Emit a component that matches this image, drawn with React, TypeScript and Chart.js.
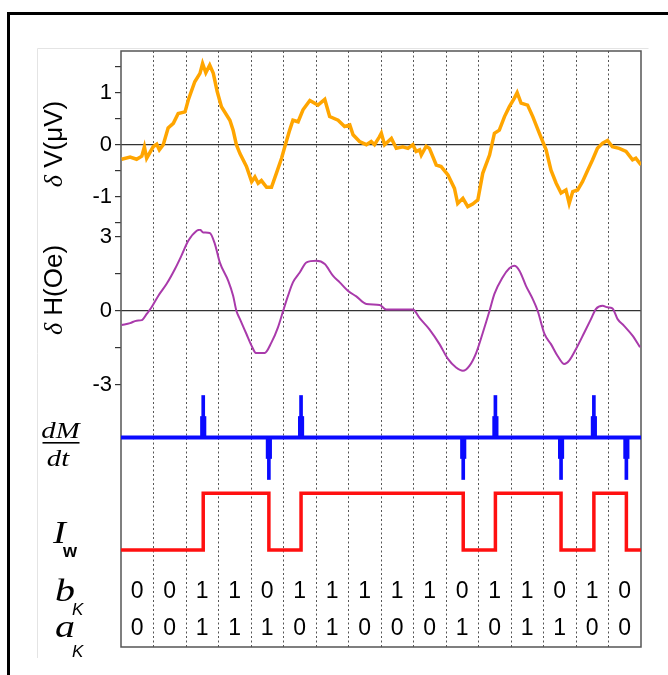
import React, { useEffect, useRef } from 'react';
import { Chart, registerables } from 'chart.js';

Chart.register(...registerables);

// ---------- data ----------
// time axis: 16 bit slots (0..16)
const dvX = [0.02, 0.28, 0.48, 0.64, 0.72, 0.79, 0.99, 1.10, 1.18, 1.30, 1.45, 1.61, 1.76, 1.97, 2.07, 2.27, 2.43, 2.51, 2.61, 2.73, 2.84, 2.96, 3.09, 3.35, 3.45, 3.55, 3.66, 3.86, 4.02, 4.12, 4.22, 4.32, 4.48, 4.63, 4.78, 4.94, 5.04, 5.19, 5.29, 5.45, 5.60, 5.81, 6.06, 6.27, 6.42, 6.68, 6.88, 7.04, 7.14, 7.34, 7.55, 7.70, 7.80, 7.95, 8.01, 8.11, 8.32, 8.47, 8.67, 8.83, 8.98, 9.08, 9.19, 9.24, 9.39, 9.49, 9.70, 9.85, 10.06, 10.26, 10.36, 10.52, 10.67, 10.82, 10.98, 11.13, 11.34, 11.49, 11.64, 11.80, 11.95, 12.10, 12.19, 12.31, 12.51, 12.67, 12.87, 13.08, 13.23, 13.39, 13.54, 13.69, 13.79, 13.90, 14.05, 14.20, 14.36, 14.51, 14.66, 14.82, 14.97, 15.12, 15.33, 15.54, 15.74, 15.84, 16.0];
const dvY = [-0.28, -0.24, -0.28, -0.22, -0.04, -0.26, -0.04, 0.01, -0.1, 0, 0.32, 0.41, 0.6, 0.63, 0.86, 1.21, 1.37, 1.56, 1.38, 1.53, 1.37, 1.02, 0.73, 0.47, 0.28, 0, -0.17, -0.42, -0.71, -0.62, -0.74, -0.69, -0.82, -0.82, -0.55, -0.26, -0.04, 0.28, 0.47, 0.44, 0.67, 0.85, 0.76, 0.87, 0.54, 0.47, 0.35, 0.38, 0.19, 0.06, 0, 0.06, 0, 0.15, 0.22, 0, 0.12, -0.07, -0.04, -0.07, 0, -0.13, -0.1, -0.2, -0.03, -0.07, -0.39, -0.42, -0.58, -0.84, -1.13, -1.03, -1.19, -1.14, -1.06, -0.55, -0.2, 0.22, 0.28, 0.54, 0.73, 0.89, 1.0, 0.8, 0.76, 0.54, 0.22, -0.1, -0.49, -0.74, -0.93, -0.87, -1.13, -0.9, -0.87, -0.71, -0.49, -0.29, -0.07, 0.03, 0.08, -0.04, -0.07, -0.13, -0.29, -0.26, -0.39];

const dhX = [0.02, 0.28, 0.48, 0.64, 0.79, 0.94, 1.15, 1.40, 1.66, 1.86, 2.07, 2.33, 2.43, 2.53, 2.73, 2.89, 3.04, 3.30, 3.45, 3.55, 3.66, 3.86, 4.02, 4.15, 4.42, 4.63, 4.83, 4.99, 5.14, 5.29, 5.50, 5.71, 6.01, 6.27, 6.52, 6.73, 6.98, 7.24, 7.55, 7.96, 8.16, 8.98, 9.19, 9.49, 9.80, 10.06, 10.31, 10.52, 10.72, 10.93, 11.13, 11.34, 11.49, 11.74, 11.95, 12.10, 12.26, 12.46, 12.67, 12.82, 13.03, 13.23, 13.43, 13.64, 13.79, 14.00, 14.26, 14.46, 14.61, 14.82, 14.97, 15.12, 15.28, 15.48, 15.74, 15.97];
const dhY = [-0.58, -0.5, -0.4, -0.38, -0.13, 0.14, 0.61, 1.08, 1.69, 2.23, 2.83, 3.24, 3.28, 3.17, 3.15, 2.7, 1.96, 1.21, 0.61, 0, -0.34, -0.94, -1.42, -1.71, -1.71, -1.28, -0.67, 0, 0.61, 1.15, 1.55, 1.96, 2.02, 1.89, 1.42, 1.15, 0.81, 0.58, 0.27, 0.23, 0.05, 0.05, -0.3, -0.75, -1.35, -1.95, -2.3, -2.43, -2.23, -1.7, -0.9, 0, 0.68, 1.35, 1.72, 1.82, 1.62, 1.01, 0.47, 0, -0.94, -1.35, -1.82, -2.16, -2.02, -1.55, -0.87, -0.34, 0.07, 0.2, 0.14, 0.1, -0.34, -0.61, -1.01, -1.48];

const spikeX = [2.53, 4.55, 5.54, 10.53, 11.52, 13.54, 14.55, 15.55];
const spikeDir = [1, -1, 1, -1, 1, -1, 1, -1];
const spikeTip = 1;
const spikeCore = 0.5;

const iwX = [0, 2.53, 4.55, 5.54, 10.53, 11.52, 13.54, 14.55, 15.55, 16];
const iwY = [-1, 1, -1, 1, -1, 1, -1, 1, -1, -1];

const bK = [0, 0, 1, 1, 0, 1, 1, 1, 1, 1, 0, 1, 1, 0, 1, 0];
const aK = [0, 0, 1, 1, 1, 0, 1, 0, 0, 0, 1, 0, 1, 1, 0, 0];

const SANS = "'Liberation Sans', Arial, sans-serif";
const SERIF = "'Liberation Serif', 'Times New Roman', serif";

const pts = (xs: number[], ys: number[]) => xs.map((x, i) => ({ x, y: ys[i] }));

const figurePlugin = {
  id: 'figure',
  beforeDraw(chart: any) {
    const ctx = chart.ctx;
    ctx.save();
    ctx.fillStyle = '#fff';
    ctx.fillRect(0, 0, chart.width, chart.height);
    // faint inner frame
    ctx.strokeStyle = '#e4e4e4';
    ctx.lineWidth = 1;
    ctx.beginPath();
    ctx.moveTo(37.5, 658);
    ctx.lineTo(37.5, 48.5);
    ctx.lineTo(648.5, 48.5);
    ctx.stroke();
    // thick outer frame
    ctx.fillStyle = '#000';
    ctx.fillRect(7, 12, 661, 3);
    ctx.fillRect(7, 12, 3, 663);
    ctx.restore();
  },
  beforeDatasetsDraw(chart: any) {
    const { ctx, chartArea: a } = chart;
    ctx.save();
    ctx.strokeStyle = '#555';
    ctx.lineWidth = 1.5;
    ctx.strokeRect(a.left, a.top, a.right - a.left, a.bottom - a.top);
    ctx.restore();
  },
  afterDraw(chart: any) {
    const ctx = chart.ctx;
    const xs = chart.scales.x;
    const yb = chart.scales.yB;
    ctx.save();
    // bit digits
    ctx.fillStyle = '#000';
    ctx.font = `23px ${SANS}`;
    ctx.textAlign = 'center';
    ctx.textBaseline = 'middle';
    bK.forEach((v, k) => ctx.fillText(String(v), xs.getPixelForValue(k + 0.5), yb.getPixelForValue(1)));
    aK.forEach((v, k) => ctx.fillText(String(v), xs.getPixelForValue(k + 0.5), yb.getPixelForValue(0)));

    // rotated labels
    const rot = (cx: number, cy: number, parts: [string, string][]) => {
      ctx.save();
      ctx.translate(cx, cy);
      ctx.rotate(-Math.PI / 2);
      ctx.textAlign = 'left';
      ctx.textBaseline = 'alphabetic';
      let total = 0;
      parts.forEach(([t, f]) => { ctx.font = f; total += ctx.measureText(t).width; });
      let x = -total / 2;
      parts.forEach(([t, f]) => { ctx.font = f; ctx.fillText(t, x, 0); x += ctx.measureText(t).width; });
      ctx.restore();
    };
    rot(62, 144, [['δ', `italic 26px ${SERIF}`], [' V(μV)', `26px ${SANS}`]]);
    rot(62, 290, [['δ', `italic 26px ${SERIF}`], [' H(Oe)', `26px ${SANS}`]]);

    // stretched italic serif symbols
    const sym = (t: string, x: number, y: number, font: string, align: string) => {
      ctx.save();
      ctx.translate(x, y);
      ctx.scale(1.25, 1);
      ctx.font = font;
      ctx.textAlign = align;
      ctx.textBaseline = 'alphabetic';
      ctx.fillText(t, 0, 0);
      ctx.restore();
    };
    // dM/dt
    sym('dM', 60.5, 438, `italic 23px ${SERIF}`, 'center');
    sym('dt', 58, 466, `italic 23px ${SERIF}`, 'center');
    ctx.fillRect(42.5, 442, 37, 1.6);

    // I_w
    sym('I', 53, 543, `italic 31px ${SERIF}`, 'left');
    ctx.textAlign = 'left';
    ctx.textBaseline = 'alphabetic';
    ctx.font = `bold 18px ${SANS}`;
    ctx.fillText('w', 63, 557);
    // b_K, a_K
    sym('b', 55, 601, `italic 32px ${SERIF}`, 'left');
    sym('a', 55, 637, `italic 32px ${SERIF}`, 'left');
    ctx.textAlign = 'left';
    ctx.font = `italic 17px ${SANS}`;
    ctx.fillText('K', 72, 615);
    ctx.fillText('K', 72, 657);
    ctx.restore();
  },
};

const yBase = (weight: number, stackWeight: number, min: number, max: number) => ({
  type: 'linear',
  position: 'left',
  stack: 'panels',
  stackWeight,
  weight,
  min,
  max,
  offset: false,
  border: { display: false },
  afterFit: (s: any) => { s.width = 121; },
});

export default function App() {
  const ref = useRef<HTMLCanvasElement | null>(null);
  useEffect(() => {
    if (!ref.current) return;
    const zeroGrid = (c: any) => (c.tick && c.tick.value === 0 ? '#333' : 'rgba(0,0,0,0)');
    const chart = new Chart(ref.current, {
      type: 'line',
      data: {
        datasets: [
          { data: pts(dvX, dvY), yAxisID: 'yV', borderColor: '#ffa500', borderWidth: 3.5, pointRadius: 0, tension: 0 },
          { data: pts(dhX, dhY), yAxisID: 'yH', borderColor: '#a93aab', borderWidth: 2, pointRadius: 0, cubicInterpolationMode: 'monotone' },
          { data: [{ x: 0, y: 0 }, { x: 16, y: 0 }], yAxisID: 'yM', borderColor: '#0a0aff', borderWidth: 4, pointRadius: 0 },
          { type: 'bar', data: spikeX.map((x, i) => ({ x, y: spikeDir[i] * spikeTip })), yAxisID: 'yM', backgroundColor: '#0a0aff', barThickness: 3, grouped: false },
          { type: 'bar', data: spikeX.map((x, i) => ({ x, y: spikeDir[i] * spikeCore })), yAxisID: 'yM', backgroundColor: '#0a0aff', barThickness: 5.5, grouped: false },
          { data: pts(iwX, iwY), yAxisID: 'yI', borderColor: '#ff1010', borderWidth: 3.5, pointRadius: 0, stepped: true },
        ] as any,
      },
      options: {
        animation: false,
        responsive: false,
        devicePixelRatio: 1,
        layout: { padding: { top: 51, left: 0, right: 27, bottom: 28 } },
        plugins: { legend: { display: false }, tooltip: { enabled: false } },
        scales: {
          x: {
            type: 'linear', min: 0, max: 16, offset: false,
            ticks: { display: false, stepSize: 1 },
            grid: {
              offset: false, drawTicks: false, lineWidth: 1,
              color: (c: any) => (c.tick && (c.tick.value === 0 || c.tick.value === 16) ? 'rgba(0,0,0,0)' : '#555'),
            },
            border: { display: false, dash: [2, 2.5] },
            afterFit: (s: any) => { s.height = 0; },
          },
          yV: {
            ...yBase(5, 178, -1.62, 1.80),
            ticks: {
              stepSize: 0.5, includeBounds: false, autoSkip: false, padding: 3, color: '#000',
              font: { size: 22, family: SANS },
              callback: (v: any) => (Number.isInteger(v) ? String(v) : ''),
            },
            grid: { color: zeroGrid, tickColor: '#333', tickLength: 6, lineWidth: 1.2 },
          },
          yH: {
            ...yBase(4, 166, -3.41, 3.31),
            ticks: {
              stepSize: 1.5, includeBounds: false, autoSkip: false, padding: 3, color: '#000',
              font: { size: 22, family: SANS },
              callback: (v: any) => (v % 3 === 0 ? String(v) : ''),
            },
            grid: { color: zeroGrid, tickColor: '#333', tickLength: 6, lineWidth: 1.2 },
          },
          yM: {
            ...yBase(3, 85, -1.012, 1.012),
            ticks: { display: false },
            grid: { display: false },
          },
          yI: {
            ...yBase(2, 85, -1.53, 1.47),
            ticks: { display: false, stepSize: 1 },
            grid: { color: zeroGrid, drawTicks: false, lineWidth: 1.2 },
          },
          yB: {
            ...yBase(1, 82, -0.483, 1.715),
            ticks: { display: false },
            grid: { display: false },
          },
        } as any,
      },
      plugins: [figurePlugin],
    });
    return () => chart.destroy();
  }, []);
  return (
    <div style={{ position: 'absolute', left: 0, top: 0, width: 668, height: 675 }}>
      <canvas ref={ref} width={668} height={675} style={{ display: 'block' }} />
    </div>
  );
}
